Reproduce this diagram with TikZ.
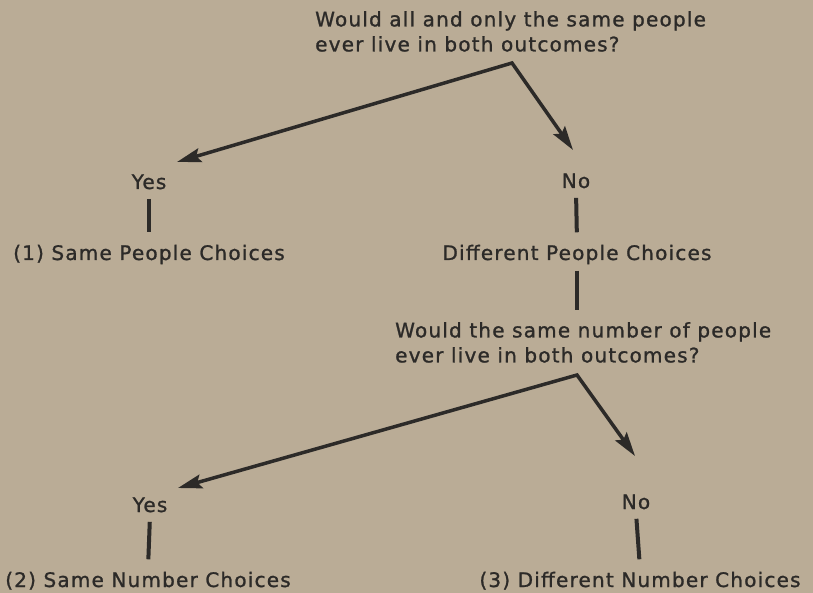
\documentclass[tikz,border=0pt]{standalone}
\usepackage{fontspec}
\usepackage{xcolor}
\usetikzlibrary{arrows.meta}
\newfontfamily\scanfont{DejaVu Sans}[LetterSpace=6, FakeBold=1.2]
\definecolor{paper}{RGB}{186,172,150}
\definecolor{ink}{RGB}{44,42,40}

\begin{document}
\begin{tikzpicture}[x=1pt, y=-1pt,
      qtext/.style={font=\scanfont\fontsize{20}{25}\selectfont, text=ink,
        align=left, anchor=north west, inner sep=0pt},
      ans/.style={font=\scanfont\fontsize{20}{25}\selectfont, text=ink, anchor=base},
      bar/.style={draw=ink, line width=4pt, shorten <=6pt, shorten >=9pt},
      link/.style={draw=ink, line width=3.5pt, line join=miter,
        {Stealth[length=24pt, width=14pt, inset=4pt]}-{Stealth[length=24pt, width=14pt, inset=4pt]}}]
      \fill[paper] (0,0) rectangle (813,593);
      % first question
      \node[qtext] (q1) at (315,11) {Would all and only the same people\\ever live in both outcomes?};
      \coordinate (apex1) at (512,63);
      \coordinate (tip1) at (177,162);
      \coordinate (tip2) at (573,150);
      \node[ans] (yes1) at (149,189) {Yes};
      \node[ans] (no1) at (576,188) {No};
      \node[ans] (same1) at (149,260) {(1) Same People Choices};
      \node[ans] (diff1) at (577,260) {Different People Choices};
      \draw[link] (tip1) -- (apex1) -- (tip2);
      \draw[bar] (yes1.south) -- (same1.north);
      \draw[bar] (no1.south) -- (diff1.north);
      % second question
      \node[qtext] (q2) at (395,322) {Would the same number of people\\ever live in both outcomes?};
      \draw[bar, shorten <=3pt, shorten >=12pt] (diff1.south) -- (q2.north -| diff1.south);
      \coordinate (apex2) at (577,375);
      \coordinate (tip3) at (178,488);
      \coordinate (tip4) at (635,456);
      \node[ans] (yes2) at (150,512) {Yes};
      \node[ans] (no2) at (636,509) {No};
      \node[ans] (same2) at (148,587) {(2) Same Number Choices};
      \node[ans] (diff2) at (640,587) {(3) Different Number Choices};
      \draw[link] (tip3) -- (apex2) -- (tip4);
      \draw[bar] (yes2.south) -- (same2.north);
      \draw[bar] (no2.south) -- (diff2.north);
\end{tikzpicture}
\end{document}
